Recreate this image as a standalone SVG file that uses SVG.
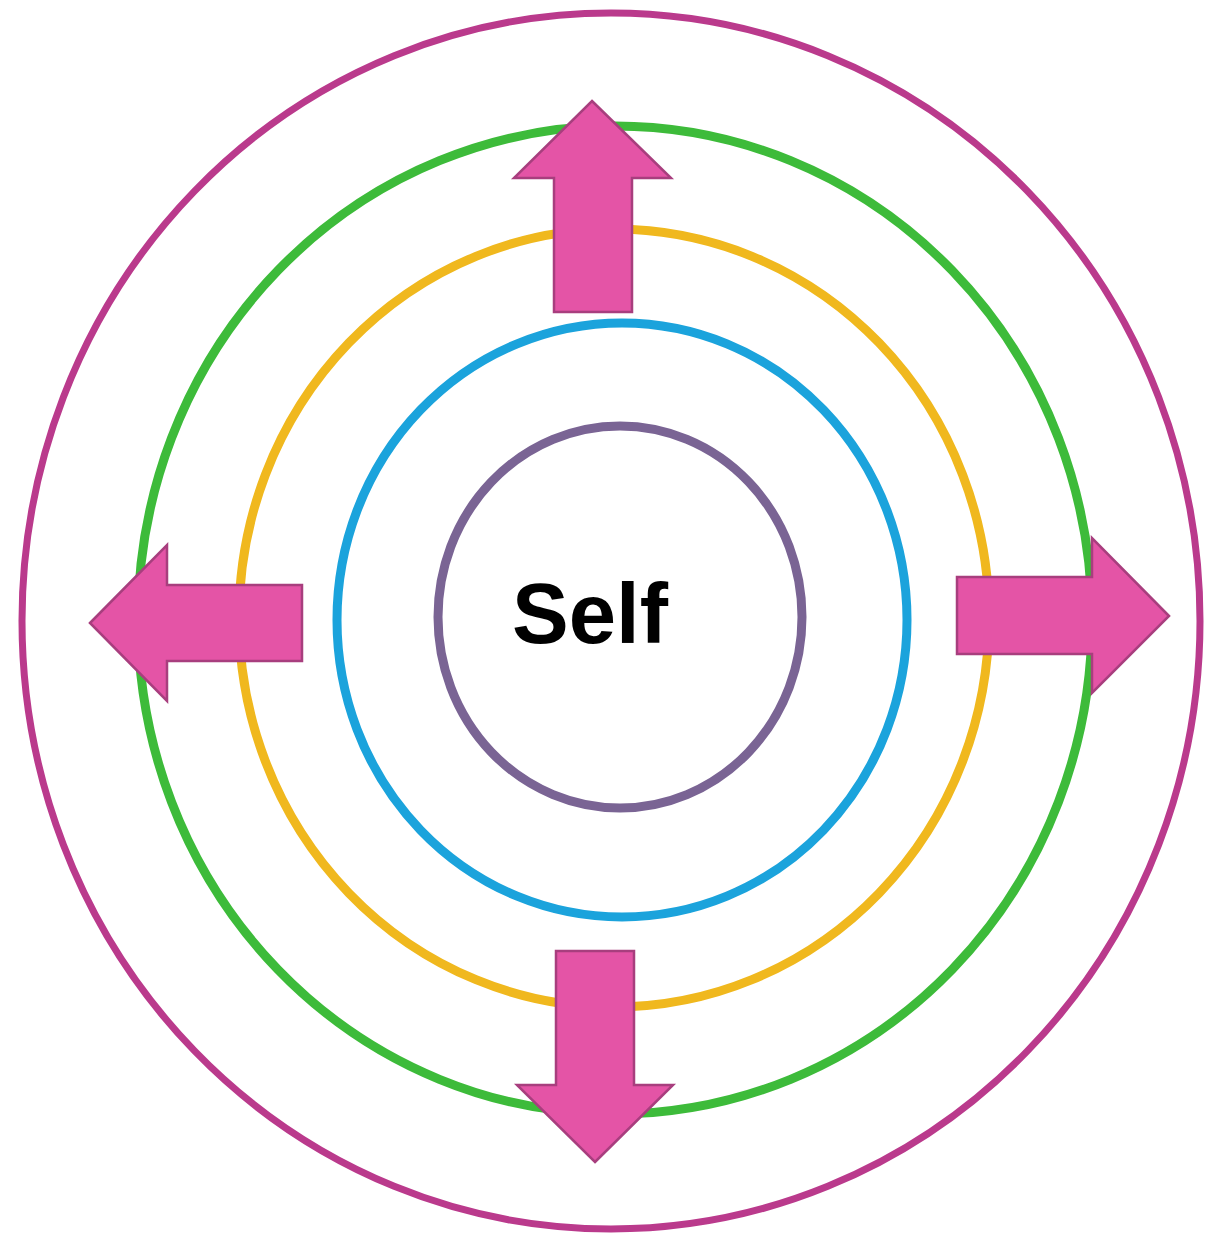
<svg xmlns="http://www.w3.org/2000/svg" width="1218" height="1234" viewBox="0 0 1218 1234">
<style>
.ring{fill:none}
.arrow{fill:#E454A6;stroke:#A83E7E;stroke-width:2.5;stroke-linejoin:miter}
.label{font-family:"Liberation Sans",Arial,sans-serif;font-weight:bold;font-size:85px;fill:#000}
</style>
<rect width="1218" height="1234" fill="#ffffff"/>
<g id="rings">
<ellipse id="ring-outer" class="ring" cx="611" cy="621" rx="589" ry="608" stroke="#BA3A8C" stroke-width="7"/>
<ellipse id="ring-green" class="ring" cx="615" cy="620" rx="477" ry="494" stroke="#3DBB3A" stroke-width="9"/>
<ellipse id="ring-yellow" class="ring" cx="614" cy="618" rx="375" ry="389" stroke="#F0B81E" stroke-width="9"/>
<ellipse id="ring-blue" class="ring" cx="622" cy="620" rx="285" ry="297" stroke="#1BA3DC" stroke-width="9"/>
<ellipse id="ring-purple" class="ring" cx="620" cy="617" rx="182" ry="191" stroke="#7A6494" stroke-width="9"/>
</g>
<g id="connectors">
<polygon id="arrow-up" class="arrow" points="592,101 671,178 632,178 632,312 554,312 554,178 514,178"/>
<polygon id="arrow-right" class="arrow" points="1169,616 1092,538 1092,577 957,577 957,654 1092,654 1092,693"/>
<polygon id="arrow-down" class="arrow" points="595,1162 673,1085 634,1085 634,951 556,951 556,1085 517,1085"/>
<polygon id="arrow-left" class="arrow" points="90,623 167,545 167,585 302,585 302,661 167,661 167,701"/>
</g>
<g id="node-self">
<text class="label" x="590" y="643" text-anchor="middle">Self</text>
</g>
</svg>
